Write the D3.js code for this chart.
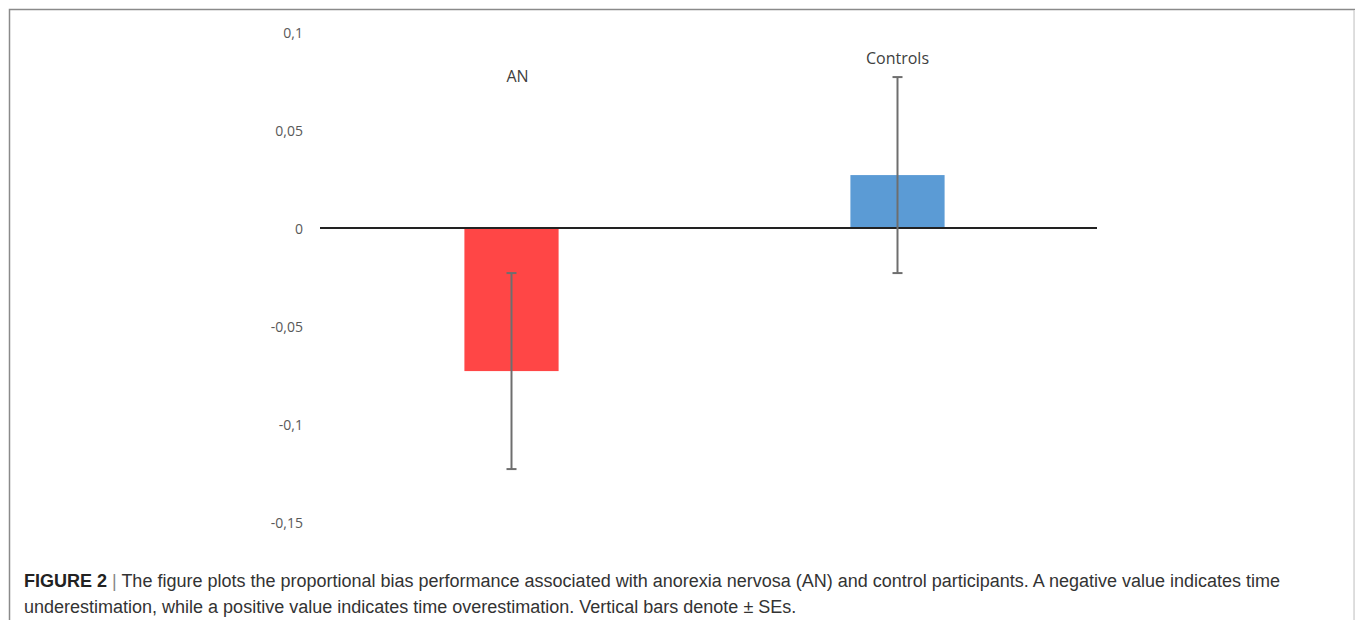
<!DOCTYPE html>
<html lang="en">
<head>
    <meta charset="UTF-8">
    <title>Figure 2</title>
    <style>
        body { margin: 0; background: #fff; }
        svg text { font-family: "Open Sans", sans-serif; }
    </style>
</head>
<body>
    <svg id="container" width="1355" height="620">
        <g id="frame"></g>
        <g id="yAxis"></g>
        <g id="body"></g>
        <g id="caption"></g>
    </svg>

<script src="https://cdn.jsdelivr.net/npm/d3@7"></script>
<script>

    let groups = ["AN", "Controls"]
    let means = [-0.073, 0.027]
    let errors = [0.050, 0.050]
    let yTicks = [0.1, 0.05, 0, -0.05, -0.1, -0.15]
    let yTickLabels = ["0,1", "0,05", "0", "-0,05", "-0,1", "-0,15"]
    let barColors = ["#ff4646", "#5b9bd5"]
    let labelValues = [0.0745, 0.0835]

    // outer frame
    d3.select("#frame").append("path")
        .attr("d", "M9.5,640 V9.5 H1354.5 V640")
        .attr("fill", "none")
        .attr("stroke", "#8a8a8a")
        .attr("stroke-width", 1.5)
    d3.select("#frame").append("line")
        .attr("x1", 1354.5).attr("x2", 1354.5)
        .attr("y1", 10).attr("y2", 620)
        .attr("stroke", "#dcdcdc").attr("stroke-width", 1.5)

    let yScale = d3.scaleLinear()
        .domain([-0.15, 0.1])
        .range([522, 32])

    let xScale = d3.scaleBand()
        .domain(groups)
        .range([318.5, 1090.5])
        .paddingInner(0.756)
        .paddingOuter(0.378)

    // y tick labels (no axis line)
    let yAxis = d3.axisLeft(yScale)
        .tickValues(yTicks)
        .tickFormat((d, i) => yTickLabels[i])
        .tickSize(0)
        .tickPadding(0)
    d3.select("#yAxis")
        .attr("transform", "translate(303,1)")
        .call(yAxis)
        .call(g => g.select(".domain").remove())
        .selectAll("text")
        .attr("font-family", "Open Sans, sans-serif")
        .attr("font-size", 14)
        .attr("fill", "#595959")

    let body = d3.select("#body")
    let data = groups.map((g, i) => ({ name: g, mean: means[i], se: errors[i], color: barColors[i], label: labelValues[i] }))
    let cx = d => xScale(d.name) + xScale.bandwidth() / 2

    body.selectAll("rect")
        .data(data)
        .enter()
        .append("rect")
        .attr("x", d => xScale(d.name))
        .attr("width", xScale.bandwidth())
        .attr("y", d => yScale(Math.max(0, d.mean)))
        .attr("height", d => Math.abs(yScale(d.mean) - yScale(0)))
        .attr("fill", d => d.color)

    // zero line
    body.append("line")
        .attr("x1", 320).attr("x2", 1097)
        .attr("y1", yScale(0)).attr("y2", yScale(0))
        .attr("stroke", "#222").attr("stroke-width", 2)

    // error bars
    let err = body.selectAll("g.err")
        .data(data)
        .enter()
        .append("g")
        .attr("class", "err")
        .attr("stroke", "#6e6e6e")
        .attr("stroke-width", 2)
    err.append("line")
        .attr("x1", cx)
        .attr("x2", cx)
        .attr("y1", d => yScale(d.mean + d.se))
        .attr("y2", d => yScale(d.mean - d.se))
    err.selectAll("line.cap")
        .data(d => [d.mean + d.se, d.mean - d.se].map(v => ({ v: v, name: d.name })))
        .enter()
        .append("line")
        .attr("class", "cap")
        .attr("x1", d => cx(d) - 5)
        .attr("x2", d => cx(d) + 5)
        .attr("y1", d => yScale(d.v))
        .attr("y2", d => yScale(d.v))

    // group labels (AN label sits a little right of its bar in the original)
    body.selectAll("text.lbl")
        .data(data)
        .enter()
        .append("text")
        .attr("class", "lbl")
        .attr("x", d => cx(d) + (d.name == "AN" ? 6 : 0))
        .attr("y", d => yScale(d.label))
        .attr("text-anchor", "middle")
        .attr("font-size", 16)
        .attr("fill", "#404040")
        .text(d => d.name)

    // caption
    let cap = d3.select("#caption")
        .attr("font-size", 18)
        .attr("fill", "#333")
    let line1 = cap.append("text")
        .attr("x", 24).attr("y", 587)
        .style("font-family", "Liberation Sans, Arial, sans-serif")
    line1.append("tspan").attr("font-weight", "bold").attr("fill", "#222").text("FIGURE 2")
    line1.append("tspan").attr("fill", "#888").text(" | ")
    line1.append("tspan").text("The figure plots the proportional bias performance associated with anorexia nervosa (AN) and control participants. A negative value indicates time")
    cap.append("text")
        .attr("x", 24).attr("y", 613)
        .style("font-family", "Liberation Sans, Arial, sans-serif")
        .text("underestimation, while a positive value indicates time overestimation. Vertical bars denote \u00b1 SEs.")

</script>
</body>
</html>
